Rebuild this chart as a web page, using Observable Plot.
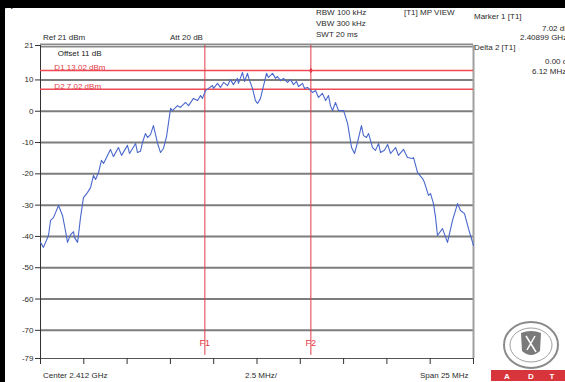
<!DOCTYPE html>
<html>
<head>
<meta charset="utf-8">
<script src="https://cdn.jsdelivr.net/npm/d3@7"></script>
<script src="https://cdn.jsdelivr.net/npm/@observablehq/plot@0.6"></script>
<style>
  html, body { margin: 0; padding: 0; background: #fff; }
  #wrap { position: relative; width: 565px; height: 382px; overflow: hidden; font-family: "Liberation Sans", Arial, sans-serif; }
  #chart { position: absolute; left: 0; top: 0; }
  .t { position: absolute; font-size: 8px; color: #2a2a2a; white-space: nowrap; line-height: 1; transform: translateY(-50%); }
  .band { position: absolute; background: #000; }
</style>
</head>
<body>
<div id="wrap">
  <div id="chart"></div>
</div>
<script>
// ---- data ----
// frequency offset from centre (MHz), span 25 MHz around 2.412 GHz
const freqMHz = [
  -12.50,-12.33,-12.04,-11.92,-11.75,-11.46,-11.23,-11.06,-10.94,-10.77,-10.59,-10.54,-10.36,-10.19,-10.02,
  -9.79,-9.61,-9.44,-9.32,-9.15,-8.98,-8.86,-8.46,-8.29,-8.00,-7.82,-7.48,-7.36,-7.01,-6.90,-6.73,-6.61,
  -6.44,-6.32,-6.15,-5.98,-5.74,-5.57,-5.40,-5.22,-4.99,-4.88,-4.59,-4.42,-4.13,-3.95,-3.67,-3.43,-3.26,
  -3.15,-2.97,-2.80,-2.57,-2.51,-2.28,-2.11,-1.93,-1.70,-1.53,-1.36,-1.13,-1.07,-0.84,-0.72,-0.55,-0.43,
  -0.26,-0.09,0.03,0.20,0.38,0.55,0.66,0.90,1.07,1.18,1.36,1.53,1.76,1.94,2.11,2.28,2.40,2.63,2.74,2.92,
  3.03,3.21,3.38,3.55,3.78,3.96,4.13,4.24,4.36,4.53,4.71,5.00,5.23,5.46,5.63,5.80,6.03,6.15,6.32,6.44,
  6.67,6.84,7.02,7.13,7.36,7.54,7.71,8.00,8.17,8.46,8.69,8.98,9.04,9.27,9.56,9.67,9.90,10.02,10.19,10.31,
  10.42,10.71,11.00,11.29,11.58,11.75,11.98,12.21,12.50
];
// trace level (dBm)
const levelDbm = [
  -41.9,-43.5,-39.7,-34.9,-34.0,-30.1,-33.3,-38.1,-41.9,-39.5,-38.5,-40.3,-41.9,-34.0,-27.6,
  -26.0,-24.4,-20.5,-21.8,-19.6,-15.7,-16.7,-12.2,-14.5,-11.6,-14.1,-10.9,-13.5,-10.3,-13.2,-12.8,-10.0,
  -7.1,-8.4,-7.5,-4.6,-10.3,-13.2,-11.9,-8.0,0.9,0.2,1.8,1.2,2.8,1.8,4.1,3.4,5.0,
  4.1,6.6,7.3,8.2,7.3,8.9,7.6,9.2,8.2,10.1,8.5,10.5,8.9,12.4,9.5,12.1,9.8,
  7.3,3.4,2.5,4.1,8.2,12.1,10.8,12.1,10.5,11.1,9.8,10.5,9.2,10.1,8.5,9.5,7.9,8.9,7.3,7.6,
  7.0,6.0,6.6,4.4,5.7,3.4,5.0,1.8,0.2,2.8,0.2,0.2,-3.9,-11.6,-13.5,-10.0,-4.6,-7.8,-8.4,-7.1,
  -11.6,-12.5,-10.3,-13.2,-12.5,-10.6,-13.5,-11.6,-14.1,-12.2,-14.8,-15.1,-14.8,-19.6,-21.5,-22.8,-26.9,-26.3,-29.5,-34.0,
  -39.7,-37.5,-41.9,-34.9,-29.5,-31.7,-32.7,-37.5,-42.9
];
const yTicks = [21, 10, 0, -10, -20, -30, -40, -50, -60, -70, -79];
const gridLevels = [10, 0, -10, -20, -30, -40, -50, -60, -70];
const xTicks = [-12.5, -10, -7.5, -5, -2.5, 0, 2.5, 5, 7.5, 10, 12.5];
const displayLines = [13.02, 7.02];
const displayLabels = ["D1 13.02 dBm", "D2 7.02 dBm"];
const freqMarkers = [-3.01, 3.11];
const freqMarkerLabels = ["F1", "F2"];
const refLevel = 21, bottomLevel = -79;

const trace = freqMHz.map((f, i) => ({f, v: levelDbm[i]}));
const dLines = displayLines.map((v, i) => ({v, label: displayLabels[i]}));
const fLines = freqMarkers.map((f, i) => ({f, label: freqMarkerLabels[i]}));

const chart = Plot.plot({
  width: 565, height: 382,
  marginLeft: 40, marginRight: 92, marginTop: 45, marginBottom: 24,
  style: {fontFamily: "Liberation Sans, Arial, sans-serif", fontSize: "8px", background: "transparent", color: "#2a2a2a"},
  x: {domain: [-12.5, 12.5]},
  y: {domain: [bottomLevel, refLevel]},
  marks: [
    Plot.ruleY(gridLevels, {stroke: "#7d7d7d", strokeWidth: 2}),
    Plot.ruleY([refLevel], {stroke: "#8a8a8a", strokeWidth: 4}),
    Plot.ruleY([refLevel], {stroke: "#d8d8d8", strokeWidth: 1}),
    Plot.ruleX([12.5], {y1: bottomLevel, y2: refLevel, stroke: "#a0a0a0", strokeWidth: 2}),
    Plot.ruleY([bottomLevel], {stroke: "#555", strokeWidth: 1.2}),
    Plot.ruleX([-12.5], {y1: bottomLevel, y2: refLevel, stroke: "#333", strokeWidth: 1}),
    Plot.ruleY(dLines, {y: "v", stroke: "#ee4a55", strokeWidth: 1.5}),
    Plot.ruleX(fLines, {x: "f", y1: bottomLevel + 1, y2: refLevel, stroke: "#e23a46", strokeWidth: 1}),
    Plot.text(dLines, {x: -11.7, y: "v", text: "label", fill: "#e23a46", textAnchor: "start", lineAnchor: "bottom", dy: -0.5, fontSize: 8}),
    Plot.text(fLines, {x: "f", y: -74, text: "label", fill: "#e23a46", fontSize: 9}),
    Plot.text(["Offset 11 dB"], {x: -11.5, y: 18.4, text: d => d, fill: "#222", textAnchor: "start", fontSize: 8}),
    Plot.line(trace, {x: "f", y: "v", stroke: "#4a68cc", strokeWidth: 1.1}),
    Plot.dot([{f: freqMarkers[1], v: displayLines[0]}], {x: "f", y: "v", r: 1.8, fill: "#e23a46", symbol: "diamond"}),
    Plot.axisY(yTicks, {tickSize: 5, tickPadding: 2, tickFormat: d => String(d), fontSize: 8, stroke: "#333"}),
    Plot.axisX(xTicks, {tickSize: 6, tickFormat: () => "", stroke: "#333"})
  ]
});
document.getElementById("chart").appendChild(chart);

// surrounding instrument annotations
const wrap = document.getElementById("wrap");
const notes = [
  ["Ref 21 dBm", 43, 38], ["Att 20 dB", 170, 38],
  ["RBW 100 kHz", 316, 13], ["VBW 300 kHz", 316, 24], ["SWT 20 ms", 316, 35],
  ["[T1] MP VIEW", 404, 13],
  ["Marker 1 [T1]", 474, 17], ["7.02 dBm", 542, 29], ["2.40899 GHz", 520, 38],
  ["Delta 2 [T1]", 474, 48], ["0.00 dB", 545, 62], ["6.12 MHz", 532, 72],
  ["Center 2.412 GHz", 43, 376], ["2.5 MHz/", 245, 376], ["Span 25 MHz", 420, 376]
];
for (const [txt, x, y] of notes) {
  const d = document.createElement("div");
  d.className = "t"; d.textContent = txt;
  d.style.left = x + "px"; d.style.top = y + "px";
  wrap.appendChild(d);
}
// black frame bands of the screenshot
for (const [l, t, w, h] of [[0, 0, 565, 8], [0, 0, 5, 382]]) {
  const b = document.createElement("div");
  b.className = "band";
  Object.assign(b.style, {left: l + "px", top: t + "px", width: w + "px", height: h + "px"});
  wrap.appendChild(b);
}
// certification logo
const logo = document.createElementNS("http://www.w3.org/2000/svg", "svg");
logo.setAttribute("width", 80); logo.setAttribute("height", 66);
Object.assign(logo.style, {position: "absolute", left: "488px", top: "318px"});
logo.innerHTML = `
  <ellipse cx="43" cy="27" rx="27" ry="23" fill="#fff" stroke="#8a8a8a" stroke-width="2"/>
  <ellipse cx="43" cy="27" rx="21" ry="17" fill="none" stroke="#a0a0a0" stroke-width="1"/>
  <path d="M33 15 Q43 11 53 15 L52 33 Q43 41 34 33 Z" fill="#7a7a7a"/>
  <path d="M38 18 L48 34 M47 18 L39 32" stroke="#fff" stroke-width="1.5"/>
  <rect x="3" y="52" width="77" height="11" fill="#d8343c"/>
  <text x="19" y="60.5" fill="#fff" font-size="8" font-weight="bold" text-anchor="middle" font-family="Liberation Sans">A</text>
  <text x="43" y="60.5" fill="#fff" font-size="8" font-weight="bold" text-anchor="middle" font-family="Liberation Sans">D</text>
  <text x="64" y="60.5" fill="#fff" font-size="8" font-weight="bold" text-anchor="middle" font-family="Liberation Sans">T</text>`;
wrap.appendChild(logo);
</script>
</body>
</html>
